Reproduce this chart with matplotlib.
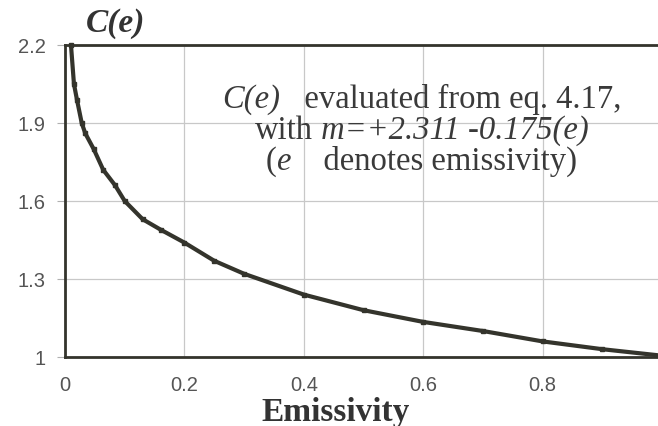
import matplotlib
matplotlib.use("Agg")
import matplotlib.pyplot as plt
from matplotlib.offsetbox import TextArea, HPacker, VPacker, AnnotationBbox

# Data
emissivity = [0.010, 0.015, 0.020, 0.028, 0.034, 0.048, 0.064, 0.084, 0.100,
              0.130, 0.160, 0.200, 0.250, 0.300, 0.400, 0.500, 0.600, 0.700,
              0.800, 0.900, 1.000]
c_values = [2.200, 2.050, 1.990, 1.900, 1.860, 1.800, 1.720, 1.660, 1.600,
            1.530, 1.490, 1.440, 1.370, 1.320, 1.240, 1.180, 1.135, 1.100,
            1.060, 1.030, 1.005]
x_ticks = [0, 0.2, 0.4, 0.6, 0.8, 1.0]
x_tick_labels = ["0", "0.2", "0.4", "0.6", "0.8", "1"]
y_ticks = [1.0, 1.3, 1.6, 1.9, 2.2]
y_tick_labels = ["1", "1.3", "1.6", "1.9", "2.2"]

W, H = 658, 427
fig = plt.figure(figsize=(W / 100, H / 100), dpi=100)
left_px, right_px, bottom_px, top_px = 65, 662, 358, 46
ax = fig.add_axes([left_px / W, (H - bottom_px) / H,
                   (right_px - left_px) / W, (bottom_px - top_px) / H])

dark = "#34342c"
ax.plot(emissivity, c_values, color=dark, lw=3.0, solid_capstyle="butt",
        clip_on=False, zorder=3)
ax.plot(emissivity, c_values, ls="none", marker="s", ms=3.5, color=dark,
        clip_on=False, zorder=3)

ax.set_xlim(0, 1.0)
ax.set_ylim(1.0, 2.2)
ax.set_xticks(x_ticks)
ax.set_xticklabels(x_tick_labels)
ax.set_yticks(y_ticks)
ax.set_yticklabels(y_tick_labels)

ax.grid(True, color="#c8c8c8", lw=0.9)
ax.set_axisbelow(True)
ax.tick_params(axis="y", length=6, width=0.8, color="#b0b0b0",
               labelsize=14.5, labelcolor="#555555", pad=8)
ax.tick_params(axis="x", length=0, labelsize=14.5, labelcolor="#555555", pad=13)
for lab in ax.get_xticklabels() + ax.get_yticklabels():
    lab.set_fontfamily("Liberation Sans")

for side in ["left", "top", "bottom"]:
    ax.spines[side].set_color(dark)
    ax.spines[side].set_linewidth(2.0)
ax.spines["right"].set_visible(False)

# Titles
fig.text(116 / W, 1 - 32 / H, "C(e)", family="Liberation Serif",
         fontweight="bold", fontstyle="italic", fontsize=24, color="#333333",
         ha="center", va="baseline")
fig.text(336 / W, 1 - 421 / H, "Emissivity", family="Liberation Serif",
         fontweight="bold", fontsize=24, color="#333333",
         ha="center", va="baseline")

# Annotation with mixed italic/regular text
fs = 23.5
col = "#3a3a3a"
norm = dict(family="Liberation Serif", fontsize=fs, color=col)
ital = dict(family="Liberation Serif", fontsize=fs, color=col, fontstyle="italic")

row1 = HPacker(children=[TextArea("C(e)", textprops=ital),
                         TextArea("   evaluated from eq. 4.17,", textprops=norm)],
               sep=0, pad=0, align="baseline")
row2 = HPacker(children=[TextArea("with", textprops=norm),
                         TextArea(" m=+2.311 -0.175(e)", textprops=ital)],
               sep=0, pad=0, align="baseline")
row3 = HPacker(children=[TextArea("(", textprops=norm),
                         TextArea("e", textprops=ital),
                         TextArea("    denotes emissivity)", textprops=norm)],
               sep=0, pad=0, align="baseline")
block = VPacker(children=[row1, row2, row3], sep=0, pad=0, align="center")
ab = AnnotationBbox(block, (0.597, 1.875), xycoords="data", frameon=False,
                    box_alignment=(0.5, 0.5), pad=0)
ax.add_artist(ab)

fig.savefig("out.png", dpi=100)
